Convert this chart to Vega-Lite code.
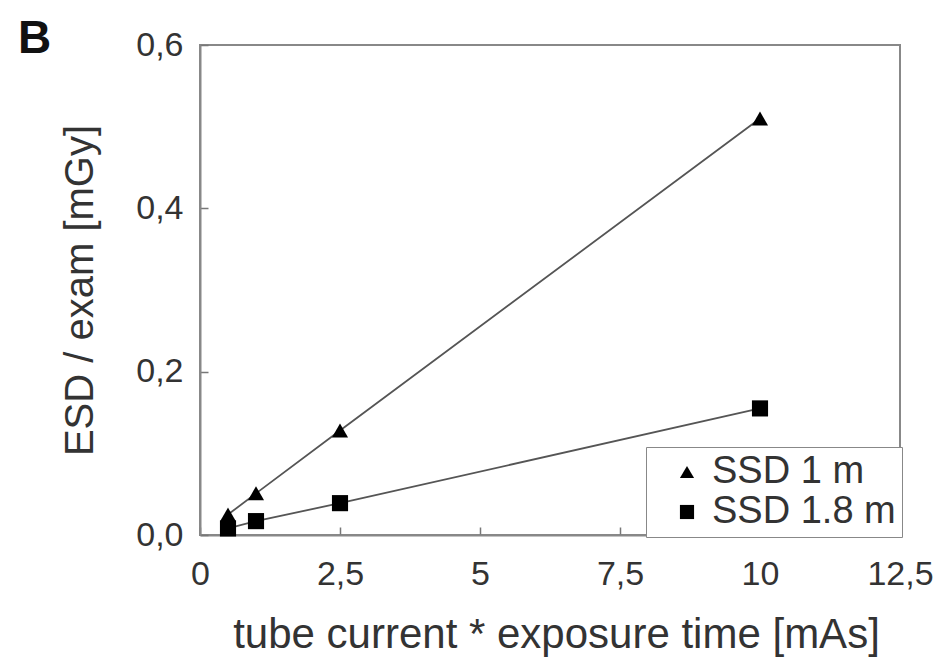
{
  "$schema": "https://vega.github.io/schema/vega-lite/v6.json",
  "width": 700,
  "height": 490,
  "autosize": "none",
  "padding": {"left": 200, "top": 45, "right": 42, "bottom": 122},
  "background": "white",
  "title": {"text": "B", "anchor": "start", "frame": "group", "fontSize": 46, "fontWeight": "bold", "font": "Liberation Sans", "color": "#111", "baseline": "alphabetic", "offset": 0, "dx": -182, "dy": 71},
  "config": {
    "font": "Liberation Sans",
    "view": {"stroke": "#888", "strokeWidth": 2},
    "axis": {"grid": false, "domainColor": "#888", "domainWidth": 2, "tickColor": "#777", "tickWidth": 1.5, "labelColor": "#333", "titleColor": "#333", "labelFont": "Liberation Sans", "titleFont": "Liberation Sans", "titleFontWeight": "normal"}
  },
  "data": {"values": [
    {"mAs": 0.5, "esd": 0.025, "series": "SSD 1 m"},
    {"mAs": 1, "esd": 0.051, "series": "SSD 1 m"},
    {"mAs": 2.5, "esd": 0.128, "series": "SSD 1 m"},
    {"mAs": 10, "esd": 0.51, "series": "SSD 1 m"},
    {"mAs": 0.5, "esd": 0.008, "series": "SSD 1.8 m"},
    {"mAs": 1, "esd": 0.017, "series": "SSD 1.8 m"},
    {"mAs": 2.5, "esd": 0.039, "series": "SSD 1.8 m"},
    {"mAs": 10, "esd": 0.155, "series": "SSD 1.8 m"}
  ]},
  "encoding": {
    "x": {"field": "mAs", "type": "quantitative", "scale": {"domain": [0, 12.5], "nice": false, "zero": false},
      "axis": {"title": "tube current * exposure time [mAs]", "values": [0, 2.5, 5, 7.5, 10, 12.5], "labelExpr": "replace(toString(datum.value), '.', ',')", "labelFontSize": 34, "tickSize": -8, "labelPadding": 30, "labelFlush": false, "titleFontSize": 42, "titleX": 356, "titleY": 112, "titleBaseline": "alphabetic"}},
    "y": {"field": "esd", "type": "quantitative", "scale": {"domain": [0, 0.6], "nice": false},
      "axis": {"title": "ESD / exam [mGy]", "values": [0, 0.2, 0.4, 0.6], "labelExpr": "replace(format(datum.value, '.1f'), '.', ',')", "labelFontSize": 34, "tickSize": -8, "labelPadding": 25, "labelFlush": false, "titleFontSize": 40, "titleX": -120, "titleY": 245, "titleAngle": -90, "titleBaseline": "middle"}}
  },
  "layer": [
    {"mark": {"type": "line", "color": "#555", "strokeWidth": 1.8}, "encoding": {"detail": {"field": "series"}}},
    {"mark": {"type": "point", "filled": true, "opacity": 1, "color": "#000", "size": 260},
      "encoding": {"shape": {"field": "series", "type": "nominal", "scale": {"domain": ["SSD 1 m", "SSD 1.8 m"], "range": ["triangle-up", "square"]},
        "legend": {"title": null, "orient": "bottom-right", "offset": -2, "strokeColor": "#888", "fillColor": "white", "padding": 6, "labelFontSize": 38, "labelLimit": 0, "labelColor": "#333", "symbolSize": 200, "symbolFillColor": "#000", "symbolStrokeColor": "#000", "symbolOffset": 16, "rowPadding": 2, "labelOffset": 6}}}}
  ]
}
